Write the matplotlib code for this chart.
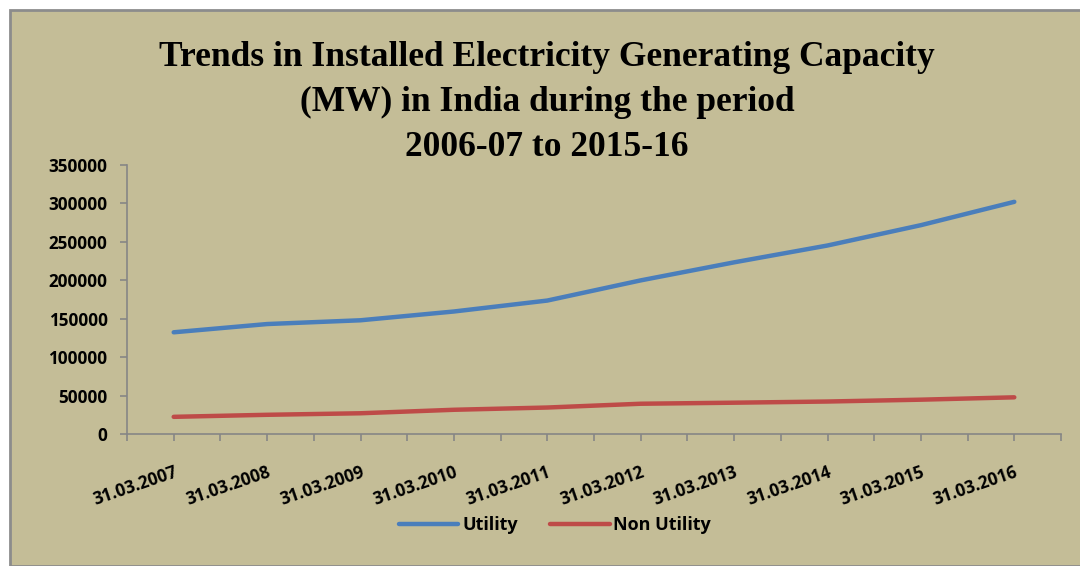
import numpy as np
import matplotlib.pyplot as plt
from matplotlib.patches import Rectangle
from matplotlib.lines import Line2D

years = ['31.03.2007', '31.03.2008', '31.03.2009', '31.03.2010', '31.03.2011',
         '31.03.2012', '31.03.2013', '31.03.2014', '31.03.2015', '31.03.2016']
utility = [132329, 143061, 147965, 159398, 173626, 199877, 223344, 245259, 271722, 302088]
non_utility = [22335, 24986, 26980, 31517, 34444, 39375, 40726, 42258, 44657, 47719]
yticks = [0, 50000, 100000, 150000, 200000, 250000, 300000, 350000]
title_lines = ['Trends in Installed Electricity Generating Capacity',
               '(MW) in India during the period',
               '2006-07 to 2015-16']

bg = '#C4BD97'
blue = '#4A7EBB'
red = '#BE4B48'
axis_grey = '#868686'

W, H = 1080, 566
fig = plt.figure(figsize=(W / 100, H / 100), dpi=100)
fig.patch.set_facecolor('white')

# khaki chart area with grey border
fig.add_artist(Rectangle((10 / W, 0), 1.2, (H - 10) / H, transform=fig.transFigure,
                         facecolor=bg, edgecolor='#8C8C8C', linewidth=2, zorder=0))

ax = fig.add_axes([127 / W, (H - 434) / H, (1061 - 127) / W, (434 - 165) / H])
ax.set_facecolor('none')

x = np.arange(len(years))
ax.plot(x, utility, color=blue, lw=3.2, solid_capstyle='round', zorder=3)
ax.plot(x, non_utility, color=red, lw=3.2, solid_capstyle='round', zorder=3)

ax.set_xlim(-0.5, len(years) - 0.5)
ax.set_ylim(0, 350000)

for s in ['top', 'right']:
    ax.spines[s].set_visible(False)
for s in ['left', 'bottom']:
    ax.spines[s].set_color(axis_grey)
    ax.spines[s].set_linewidth(1.2)

tick_font = {'family': 'Open Sans', 'weight': 'bold', 'size': 12.3}

ax.set_yticks(yticks)
ax.set_yticklabels([str(v) for v in yticks], fontdict=tick_font)
ax.tick_params(axis='y', length=5, color=axis_grey, width=1.2, pad=9)

ax.set_xticks(np.arange(-0.5, len(years), 0.5), minor=True)
ax.set_xticks(x)
ax.set_xticklabels(years, fontdict=tick_font, rotation=19, ha='right', va='top',
                   rotation_mode='anchor')
ax.tick_params(axis='x', which='both', length=5, color=axis_grey, width=1.2)
ax.tick_params(axis='x', which='major', pad=16)

for i, line in enumerate(title_lines):
    fig.text(547 / W, (H - 57 - 45 * i) / H, line, ha='center', va='center',
             fontsize=25.5, fontweight='bold', family='Liberation Serif')

handles = [Line2D([], [], color=blue, lw=3.2, solid_capstyle='round'),
           Line2D([], [], color=red, lw=3.2, solid_capstyle='round')]
fig.legend(handles, ['Utility', 'Non Utility'], loc='center', ncol=2,
           bbox_to_anchor=(555 / W, (H - 525) / H), frameon=False,
           prop={'family': 'Open Sans', 'weight': 'bold', 'size': 13},
           handlelength=3.3, handletextpad=0.2, columnspacing=1.8)

fig.savefig('out.png', dpi=100)
